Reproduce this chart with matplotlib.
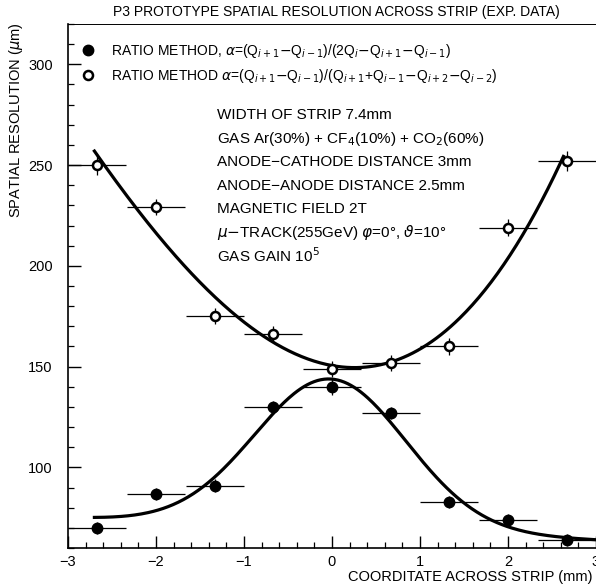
import matplotlib.pyplot as plt
import numpy as np
from matplotlib.lines import Line2D

plt.rcParams['font.family'] = ['Liberation Sans', 'DejaVu Sans']
plt.rcParams['mathtext.fontset'] = 'dejavusans'

# strip coordinate (mm) of each bin, bin half width
x_pos = [-2.67, -2.0, -1.33, -0.67, 0.0, 0.67, 1.33, 2.0, 2.67]
x_half = 0.33

# ratio method 1 (filled)
res_filled = [70, 87, 91, 130, 140, 127, 83, 74, 64]
err_filled = [3, 3, 3, 3, 4, 3, 3, 3, 3]

# ratio method 2 (open)
res_open = [250, 229, 175, 166, 149, 152, 160, 219, 252]
err_open = [5, 4, 4, 4, 4, 4, 4, 4, 5]

legend_labels = [
    r'RATIO METHOD, $\alpha$=(Q$_{i+1}$$-$Q$_{i-1}$)/(2Q$_i$$-$Q$_{i+1}$$-$Q$_{i-1}$)',
    r'RATIO METHOD $\alpha$=(Q$_{i+1}$$-$Q$_{i-1}$)/(Q$_{i+1}$+Q$_{i-1}$$-$Q$_{i+2}$$-$Q$_{i-2}$)',
]
info_lines = [
    'WIDTH OF STRIP 7.4mm',
    r'GAS Ar(30%) + CF$_4$(10%) + CO$_2$(60%)',
    'ANODE\u2212CATHODE DISTANCE 3mm',
    'ANODE\u2212ANODE DISTANCE 2.5mm',
    'MAGNETIC FIELD 2T',
    r'$\mu$$-$TRACK(255GeV) $\varphi$=0°, $\vartheta$=10°',
    r'GAS GAIN 10$^5$',
]


def gauss_fit(x, y):
    # gaussian on a linear background: grid over centre/width, least squares for the rest
    best = None
    for mu in np.linspace(-0.6, 0.6, 61):
        for sig in np.linspace(0.5, 2.0, 76):
            g = np.exp(-(x - mu) ** 2 / (2 * sig ** 2))
            A = np.column_stack([np.ones_like(x), x, g])
            coef, *_ = np.linalg.lstsq(A, y, rcond=None)
            r = np.sum((A @ coef - y) ** 2)
            if best is None or r < best[0]:
                best = (r, mu, sig, coef)
    _, mu, sig, c = best
    return lambda t: c[0] + c[1] * t + c[2] * np.exp(-(t - mu) ** 2 / (2 * sig ** 2))


def main():
    fig = plt.figure(figsize=(5.96, 5.87), dpi=100)
    ax = fig.add_axes([68 / 596, 1 - 548 / 587, 528 / 596, 524 / 587])

    x = np.array(x_pos)

    c_open = np.polyfit(x, res_open, 3)
    xs = np.linspace(-2.7, 2.63, 300)
    ax.plot(xs, np.polyval(c_open, xs), color='black', lw=2.3, zorder=2)

    f_filled = gauss_fit(x, np.array(res_filled, dtype=float))
    xs2 = np.linspace(-2.7, 3.0, 300)
    ax.plot(xs2, f_filled(xs2), color='black', lw=2.3, zorder=2)

    ax.errorbar(x, res_filled, xerr=x_half, yerr=err_filled, fmt='o',
                color='black', ms=7.5, elinewidth=0.9, capsize=0, zorder=3)
    ax.errorbar(x, res_open, xerr=x_half, yerr=err_open, fmt='o',
                mfc='white', mec='black', mew=1.8, ms=6.5,
                ecolor='black', elinewidth=0.9, capsize=0, zorder=3)

    ax.set_xlim(-3, 3)
    ax.set_ylim(60, 320)
    ax.set_xticks(np.arange(-3, 3.01, 1))
    ax.set_xticks(np.arange(-3, 3.01, 0.2), minor=True)
    ax.set_yticks(np.arange(100, 301, 50))
    ax.set_yticks(np.arange(60, 321, 10), minor=True)
    ax.set_xticklabels(['\u22123', '\u22122', '\u22121', '0', '1', '2', '3'])
    ax.tick_params(which='both', direction='in', top=False, right=False,
                   labelsize=10.5)
    ax.tick_params(which='major', length=9, width=1)
    ax.tick_params(which='minor', length=4.5, width=0.9)
    ax.tick_params(axis='y', pad=11)
    ax.tick_params(axis='x', pad=5)
    ax.spines['right'].set_visible(False)
    for s in ['left', 'bottom']:
        ax.spines[s].set_linewidth(1.2)
    ax.spines['top'].set_linewidth(0.7)

    fig.text(336 / 596, 1 - 12 / 587, 'P3 PROTOTYPE SPATIAL RESOLUTION ACROSS STRIP (EXP. DATA)',
             ha='center', va='center', fontsize=10)
    fig.text(592 / 596, 1 - 577 / 587, 'COORDITATE ACROSS STRIP (mm)',
             ha='right', va='center', fontsize=10.5)
    fig.text(16 / 596, 1 - 22 / 587, r'SPATIAL RESOLUTION ($\mu$m)',
             ha='center', va='top', rotation=90, fontsize=10.5)

    handles = [
        Line2D([], [], ls='none', marker='o', color='black', ms=7.5),
        Line2D([], [], ls='none', marker='o', mfc='white', mec='black', mew=1.8, ms=6.5),
    ]
    ax.legend(handles, legend_labels, loc='upper left', bbox_to_anchor=(0.0, 0.985),
              frameon=False, fontsize=10, handletextpad=0.9, labelspacing=0.55,
              handlelength=1.5, borderaxespad=0.3)

    for i, line in enumerate(info_lines):
        ax.text((217 - 68) / 528, (548 - 115 - i * 23.5) / 524, line,
                transform=ax.transAxes, ha='left', va='center', fontsize=11)

    fig.savefig('out.png', dpi=100)


if __name__ == '__main__':
    main()
